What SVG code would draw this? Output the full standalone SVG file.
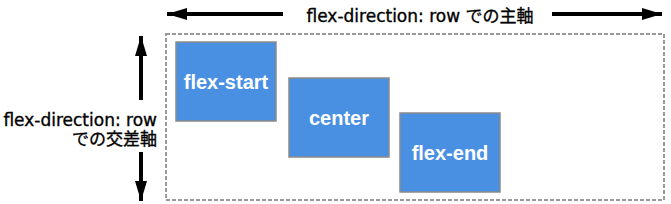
<svg xmlns="http://www.w3.org/2000/svg" width="671" height="204" viewBox="0 0 671 204">
<style>
.box{fill:#4a90e2;stroke:#8a8a8a;stroke-width:1.5}
.btxt{font-family:"Liberation Sans",Arial,sans-serif;font-weight:bold;font-size:20px;fill:#fff;text-anchor:middle}
.lbl{font-family:"DejaVu Sans","Noto Sans CJK JP",sans-serif;font-size:17px;fill:#000;stroke:#000;stroke-width:0.35}
.ax{stroke:#000;stroke-width:4;fill:none}
</style>
<defs>
<marker id="ah" markerUnits="userSpaceOnUse" markerWidth="22" markerHeight="14" refX="20" refY="6" orient="auto">
<path d="M0,0 L20,6 L0,12 Z" fill="#000"/>
</marker>
</defs>
<rect id="container" x="166" y="34" width="498" height="166" fill="none" stroke="#999" stroke-width="2" stroke-dasharray="4,2"/>
<g id="connectors">
<line class="ax" x1="283" y1="14" x2="167" y2="14" marker-end="url(#ah)"/>
<line class="ax" x1="552" y1="14" x2="662" y2="14" marker-end="url(#ah)"/>
<line class="ax" x1="141" y1="100" x2="141" y2="36" marker-end="url(#ah)"/>
<line class="ax" x1="141" y1="152" x2="141" y2="201" marker-end="url(#ah)"/>
</g>
<g id="main-axis-label">
<text class="lbl" x="420" y="22" text-anchor="middle">flex-direction: row での主軸</text>
</g>
<g id="cross-axis-label">
<text class="lbl" x="157" y="126" text-anchor="end">flex-direction: row</text>
<text class="lbl" x="157" y="145" text-anchor="end">での交差軸</text>
</g>
<g id="flex-start">
<rect class="box" x="176" y="42" width="100" height="79"/>
<text class="btxt" x="226" y="89">flex-start</text>
</g>
<g id="center">
<rect class="box" x="289" y="78" width="100" height="79"/>
<text class="btxt" x="339" y="124.5">center</text>
</g>
<g id="flex-end">
<rect class="box" x="400" y="113" width="100" height="79"/>
<text class="btxt" x="450" y="160">flex-end</text>
</g>
</svg>
